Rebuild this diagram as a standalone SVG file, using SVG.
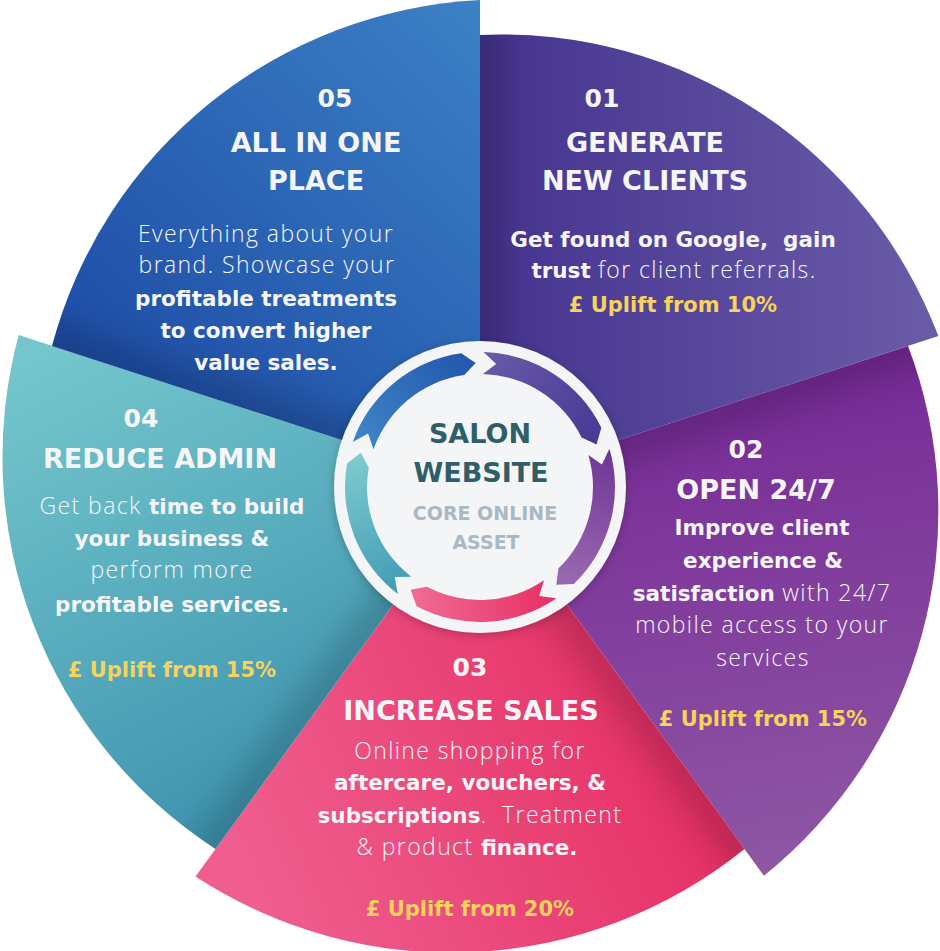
<svg xmlns="http://www.w3.org/2000/svg" width="940" height="951" viewBox="0 0 940 951">
<defs>
<style>
text{font-family:"DejaVu Sans","Liberation Sans",sans-serif;fill:#f6f6f8;text-anchor:middle}
.num{font-weight:bold;font-size:25px}
.hd{font-weight:bold;font-size:27px}
.b{font-weight:bold;font-size:21.5px}
.l{font-family:"Open Sans","DejaVu Sans",sans-serif;font-weight:300;font-size:23px;letter-spacing:1.4px}
.up{font-weight:bold;font-size:21px;fill:#f7d25c}
.c1{font-weight:bold;font-size:27px;fill:#2f5e69}
.c2{font-weight:bold;font-size:19px;fill:#a9b9c3}
.sh{stroke:#000;stroke-width:40;opacity:.2;fill:none}
</style>
<filter id="blur" filterUnits="userSpaceOnUse" x="-50" y="-50" width="1040" height="1050"><feGaussianBlur stdDeviation="18"/></filter>
<filter id="ds" x="-20%" y="-20%" width="140%" height="140%"><feDropShadow dx="0" dy="2" stdDeviation="5" flood-color="#000" flood-opacity=".25"/></filter>
<path id="s01" d="M480,485 L480,35 A467,467 0 0 1 938.4,336.1 Z"/>
<path id="s02" d="M480,485 L908,346 A467,467 0 0 1 763.9,875.7 Z"/>
<path id="s03" d="M480,485 L744.5,849 A467,467 0 0 1 195.5,876.6 Z"/>
<path id="s04" d="M480,485 L215.5,849 A467,467 0 0 1 18.7,335.1 Z"/>
<path id="s05" d="M480,485 L52,346 A467,467 0 0 1 480,0 Z"/>
<clipPath id="k01"><use href="#s01"/></clipPath>
<clipPath id="k02"><use href="#s02"/></clipPath>
<clipPath id="k03"><use href="#s03"/></clipPath>
<clipPath id="k04"><use href="#s04"/></clipPath>
<clipPath id="k05"><use href="#s05"/></clipPath>
<linearGradient id="g01" gradientUnits="userSpaceOnUse" x1="480" y1="0" x2="940" y2="0"><stop offset="0" stop-color="#45338f"/><stop offset="1" stop-color="#6a5ca8"/></linearGradient>
<linearGradient id="g02" gradientUnits="userSpaceOnUse" x1="720" y1="380" x2="800" y2="880"><stop offset="0" stop-color="#772a97"/><stop offset="1" stop-color="#8f58a4"/></linearGradient>
<linearGradient id="g03" gradientUnits="userSpaceOnUse" x1="720" y1="700" x2="260" y2="900"><stop offset="0" stop-color="#e52b61"/><stop offset="1" stop-color="#ef5e8e"/></linearGradient>
<linearGradient id="g04" gradientUnits="userSpaceOnUse" x1="40" y1="360" x2="260" y2="800"><stop offset="0" stop-color="#74c6cc"/><stop offset="1" stop-color="#4095b0"/></linearGradient>
<linearGradient id="g05" gradientUnits="userSpaceOnUse" x1="470" y1="10" x2="120" y2="380"><stop offset="0" stop-color="#3b80c5"/><stop offset="1" stop-color="#1f4ea7"/></linearGradient>
<linearGradient id="a01g" gradientUnits="userSpaceOnUse" x1="483" y1="352" x2="601" y2="428"><stop offset="0" stop-color="#6a5aa8"/><stop offset="1" stop-color="#4a3a96"/></linearGradient>
<linearGradient id="a02g" gradientUnits="userSpaceOnUse" x1="609" y1="449" x2="574" y2="584"><stop offset="0" stop-color="#6e3596"/><stop offset="1" stop-color="#9a68b0"/></linearGradient>
<linearGradient id="a03g" gradientUnits="userSpaceOnUse" x1="556" y1="598" x2="417" y2="606"><stop offset="0" stop-color="#e62e64"/><stop offset="1" stop-color="#f06a93"/></linearGradient>
<linearGradient id="a04g" gradientUnits="userSpaceOnUse" x1="398" y1="594" x2="347" y2="464"><stop offset="0" stop-color="#3f9bb4"/><stop offset="1" stop-color="#7cc9cf"/></linearGradient>
<linearGradient id="a05g" gradientUnits="userSpaceOnUse" x1="353" y1="442" x2="461" y2="353"><stop offset="0" stop-color="#3f86c8"/><stop offset="1" stop-color="#2458ad"/></linearGradient>
</defs>
<rect width="940" height="951" fill="#ffffff"/>

<g id="node-01">
<use href="#s01" fill="url(#g01)"/>
<g clip-path="url(#k01)"><line class="sh" x1="480" y1="485" x2="480" y2="-20" filter="url(#blur)"/></g>
<text class="num" x="602" y="107">01</text>
<text class="hd" x="645" y="152">GENERATE</text>
<text class="hd" x="645" y="190">NEW CLIENTS</text>
<text class="b" x="673" y="247" xml:space="preserve">Get found on Google,  gain</text>
<text class="b" x="674" y="278">trust<tspan class="l"> for client referrals.</tspan></text>
<text class="up" x="673" y="312">£ Uplift from 10%</text>
</g>

<g id="node-02">
<use href="#s02" fill="url(#g02)"/>
<g clip-path="url(#k02)"><line class="sh" x1="480" y1="485" x2="955.6" y2="330.5" filter="url(#blur)"/></g>
<text class="num" x="746" y="458">02</text>
<text class="hd" x="756" y="499">OPEN 24/7</text>
<text class="b" x="762" y="535">Improve client</text>
<text class="b" x="763" y="568">experience &amp;</text>
<text class="b" x="762" y="601">satisfaction<tspan class="l"> with 24/7</tspan></text>
<text class="l" x="762" y="633">mobile access to your</text>
<text class="l" x="763" y="666">services</text>
<text class="up" x="763" y="726">£ Uplift from 15%</text>
</g>

<g id="node-03">
<use href="#s03" fill="url(#g03)"/>
<g clip-path="url(#k03)"><line class="sh" x1="480" y1="485" x2="773.9" y2="889.5" filter="url(#blur)"/></g>
<text class="num" x="470" y="676">03</text>
<text class="hd" x="471" y="720">INCREASE SALES</text>
<text class="l" x="470" y="759">Online shopping for</text>
<text class="b" x="470" y="790">aftercare, vouchers, &amp;</text>
<text class="b" x="470" y="823" xml:space="preserve">subscriptions<tspan class="l">.  Treatment</tspan></text>
<text class="b" x="467" y="855"><tspan class="l">&amp; product </tspan>finance.</text>
<text class="up" x="470" y="916">£ Uplift from 20%</text>
</g>

<g id="node-04">
<use href="#s04" fill="url(#g04)"/>
<g clip-path="url(#k04)"><line class="sh" x1="480" y1="485" x2="186.1" y2="889.5" filter="url(#blur)"/></g>
<text class="num" x="141" y="427">04</text>
<text class="hd" x="160" y="468">REDUCE ADMIN</text>
<text class="b" x="172" y="514"><tspan class="l">Get back </tspan>time to build</text>
<text class="b" x="172" y="546">your business &amp;</text>
<text class="l" x="172" y="578">perform more</text>
<text class="b" x="172" y="612">profitable services.</text>
<text class="up" x="172" y="677">£ Uplift from 15%</text>
</g>

<g id="node-05">
<use href="#s05" fill="url(#g05)"/>
<g clip-path="url(#k05)"><line class="sh" x1="480" y1="485" x2="4.4" y2="330.5" filter="url(#blur)"/></g>
<text class="num" x="335" y="107">05</text>
<text class="hd" x="316" y="152">ALL IN ONE</text>
<text class="hd" x="316" y="190">PLACE</text>
<text class="l" x="266" y="242">Everything about your</text>
<text class="l" x="267" y="273">brand. Showcase your</text>
<text class="b" x="266" y="306">profitable treatments</text>
<text class="b" x="266" y="338">to convert higher</text>
<text class="b" x="266" y="370">value sales.</text>
</g>

<g id="node-center">
<circle cx="480" cy="487" r="146" fill="#f4f5f6" filter="url(#ds)"/>
<text class="c1" x="480" y="443">SALON</text>
<text class="c1" x="481" y="482">WEBSITE</text>
<text class="c2" x="485" y="520">CORE ONLINE</text>
<text class="c2" x="486" y="549">ASSET</text>
</g>

<g id="connectors">
<path fill="url(#a01g)" d="M483.53,352.05 A135,135 0 0 1 601.34,427.82 L596.52,444.59 L581.56,437.46 A113,113 0 0 0 482.96,374.04 L496.19,364.06 Z"/>
<path fill="url(#a02g)" d="M609.44,448.66 A135,135 0 0 1 573.78,584.11 L556.34,584.71 L558.50,568.29 A113,113 0 0 0 588.35,454.91 L601.92,464.40 Z"/>
<path fill="url(#a03g)" d="M556.47,598.26 A135,135 0 0 1 416.62,606.20 L410.66,589.80 L426.95,586.77 A113,113 0 0 0 544.00,580.13 L539.17,595.97 Z"/>
<path fill="url(#a04g)" d="M397.82,594.10 A135,135 0 0 1 347.05,463.56 L360.80,452.82 L368.72,467.38 A113,113 0 0 0 411.21,576.65 L394.64,576.95 Z"/>
<path fill="url(#a05g)" d="M352.74,441.94 A135,135 0 0 1 461.21,353.31 L475.67,363.08 L464.27,375.10 A113,113 0 0 0 373.48,449.28 L368.08,433.62 Z"/>
</g>
</svg>
